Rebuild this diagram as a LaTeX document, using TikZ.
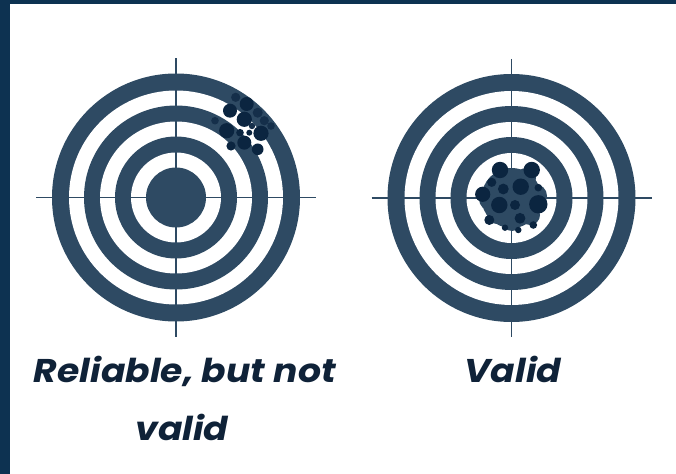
\documentclass[tikz,border=0pt]{standalone}
\usepackage{fontspec}
\setmainfont{Poppins}
\newfontfamily\labfont[FakeStretch=1.1]{Poppins}
\definecolor{ring}{HTML}{2E4A63}
\definecolor{shot}{HTML}{0B2540}
\definecolor{shotmid}{HTML}{152F4A}
\definecolor{frame}{HTML}{0D3251}
\definecolor{ink}{HTML}{0F2238}
\tikzset{
  target/.pic={
    \fill[ring] (0,0) circle (124);
    \fill[white] (0,0) circle (107);
    \fill[ring] (0,0) circle (92);
    \fill[white] (0,0) circle (76);
    \fill[ring] (0,0) circle (61);
    \fill[white] (0,0) circle (45);
    \fill[ring] (0,0) circle (30);
    \draw[ring, line width=1.5bp] (-140,0) -- (140,0);
    \draw[ring, line width=1.5bp] (0,-139) -- (0,139);
  },
  label/.style={text=ink, font=\labfont\fontsize{33}{40}\selectfont\bfseries\itshape, align=center, inner sep=0pt}
}
\begin{document}
\begin{tikzpicture}[x=1bp, y=-1bp]
\useasboundingbox (0,0) rectangle (676,474);
\fill[white] (0,0) rectangle (676,474);
\fill[frame] (0,0) rectangle (676,4);
\fill[frame] (0,0) rectangle (10,474);
\pic at (176,197.5) {target};
\pic at (511.5,198) {target};
% left cluster: medium shots
\foreach \x/\y/\r in {235.7/97.3/4.6, 257.7/112.7/5, 264.3/120.7/4.6, 271/126/3.8, 215/120.7/3.8, 252/126/3.2}
  \fill[shotmid] (\x,\y) circle (\r);
% left cluster: dark shots
\foreach \x/\y/\r in {246.7/104/7, 230/110.7/7, 244.3/119.3/7.6, 226.7/130.7/7.6, 261/133.3/7.6, 244.3/142.7/7, 257.7/149.3/5.8, 231/146/4.6, 240/132.7/3.8, 249.3/132.7/3}
  \fill[shot] (\x,\y) circle (\r);
% right cluster: blob
\fill[ring] (513,199) circle (28);
\foreach \x/\y/\r in {491/199/12, 535/196/12, 512/221/10, 503/178/10, 526/178/10, 497/214/10, 530/215/10}
  \fill[ring] (\x,\y) circle (\r);
\foreach \x/\y/\r in {500/170/8.2, 531.7/170/8.2, 482.7/194.3/7.6, 491.7/182.3/4.6, 503.3/189/5.4, 520.7/186.7/8.2, 538.3/187.7/3.8, 499.3/205/8.2, 515/205/5, 538.3/204.3/9.2, 489.3/220/5, 520/218.3/5.4, 505/227.7/3.2, 518.3/230/3.2, 533.3/225/3.8}
  \fill[shot] (\x,\y) circle (\r);
\node[label, anchor=base] (l1) at (185,382.7) {Reliable, but not};
\node[label, anchor=base] (l2) at (182,440) {valid};
\node[label, anchor=base] (r1) at (513,382.7) {Valid};
\end{tikzpicture}
\end{document}
